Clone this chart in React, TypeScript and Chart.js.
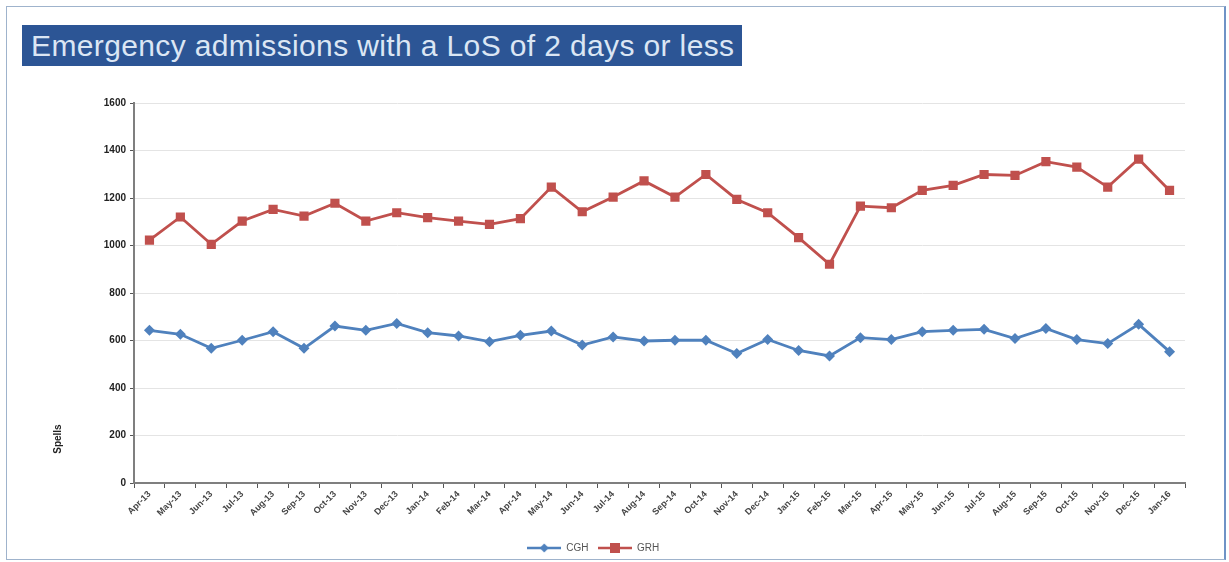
import React, { useEffect, useRef } from "react";
import { Chart, registerables } from "chart.js";

Chart.register(...registerables);

const months = [
  "Apr-13", "May-13", "Jun-13", "Jul-13", "Aug-13", "Sep-13", "Oct-13", "Nov-13", "Dec-13",
  "Jan-14", "Feb-14", "Mar-14", "Apr-14", "May-14", "Jun-14", "Jul-14", "Aug-14", "Sep-14",
  "Oct-14", "Nov-14", "Dec-14", "Jan-15", "Feb-15", "Mar-15", "Apr-15", "May-15", "Jun-15",
  "Jul-15", "Aug-15", "Sep-15", "Oct-15", "Nov-15", "Dec-15", "Jan-16",
];

const cghValues = [
  643, 626, 567, 601, 637, 567, 661, 643, 672, 633, 619, 595, 622, 640, 581, 615,
  598, 601, 601, 545, 604, 558, 535, 612, 604, 637, 643, 647, 608, 651, 604, 587, 668, 553,
];

const grhValues = [
  1023, 1120, 1005, 1103, 1152, 1124, 1178, 1103, 1138, 1117, 1103, 1089, 1113, 1246, 1142, 1204,
  1272, 1204, 1299, 1194, 1138, 1033, 921, 1166, 1159, 1232, 1253, 1299, 1295, 1353, 1330, 1246, 1364, 1232,
];

const yTicks = [0, 200, 400, 600, 800, 1000, 1200, 1400, 1600];

const TITLE = "Emergency admissions with a LoS of 2 days or less";
const Y_TITLE = "Spells";
const BLUE = "#4F81BD";
const RED = "#C0504D";

function legendSymbol(color: string, shape: "diamond" | "square"): HTMLCanvasElement {
  const c = document.createElement("canvas");
  c.width = 34;
  c.height = 12;
  const ctx = c.getContext("2d")!;
  ctx.strokeStyle = color;
  ctx.lineWidth = 2.5;
  ctx.beginPath();
  ctx.moveTo(0, 6);
  ctx.lineTo(34, 6);
  ctx.stroke();
  ctx.fillStyle = color;
  if (shape === "diamond") {
    ctx.beginPath();
    ctx.moveTo(17, 1.5);
    ctx.lineTo(21.5, 6);
    ctx.lineTo(17, 10.5);
    ctx.lineTo(12.5, 6);
    ctx.closePath();
    ctx.fill();
  } else {
    ctx.fillRect(12, 1, 10, 10);
  }
  return c;
}

export default function App() {
  const ref = useRef<HTMLCanvasElement | null>(null);

  useEffect(() => {
    const canvas = ref.current;
    if (!canvas) return;
    const symbols = [legendSymbol(BLUE, "diamond"), legendSymbol(RED, "square")];

    const yTitlePlugin = {
      id: "yTitlePlugin",
      afterDraw(chart: any) {
        const ctx = chart.ctx;
        const ys = chart.scales.y;
        ctx.save();
        ctx.translate(51, ys.getPixelForValue(185));
        ctx.rotate(-Math.PI / 2);
        ctx.font = "bold 10px 'Liberation Sans', Arial, sans-serif";
        ctx.fillStyle = "#222";
        ctx.textAlign = "center";
        ctx.textBaseline = "middle";
        ctx.fillText(Y_TITLE, 0, 0);
        ctx.restore();
      },
    };

    const chart = new Chart(canvas, {
      type: "line",
      data: {
        labels: months,
        datasets: [
          {
            label: "CGH",
            data: cghValues,
            borderColor: BLUE,
            backgroundColor: BLUE,
            borderWidth: 2.8,
            pointStyle: "rectRot",
            pointRadius: 5.5,
            pointBorderWidth: 0,
            tension: 0,
          },
          {
            label: "GRH",
            data: grhValues,
            borderColor: RED,
            backgroundColor: RED,
            borderWidth: 2.8,
            pointStyle: "rect",
            pointRadius: 6.5,
            pointBorderWidth: 0,
            tension: 0,
          },
        ],
      },
      options: {
        animation: false,
        responsive: false,
        maintainAspectRatio: false,
        layout: { padding: { left: 0, right: 39, top: 32, bottom: 0 } },
        plugins: {
          title: { display: false },
          tooltip: { enabled: false },
          legend: {
            display: true,
            position: "bottom",
            labels: {
              usePointStyle: true,
              pointStyleWidth: 34,
              color: "#555",
              padding: 4,
              font: { size: 10, family: "'Liberation Sans', Arial, sans-serif" },
              generateLabels: (ch: any) =>
                ch.data.datasets.map((ds: any, i: number) => ({
                  text: ds.label + "  ",
                  pointStyle: symbols[i],
                  fillStyle: ds.borderColor,
                  strokeStyle: ds.borderColor,
                  fontColor: "#555",
                  lineWidth: 0,
                  hidden: false,
                  datasetIndex: i,
                })),
            },
          },
        },
        scales: {
          x: {
            type: "category",
            offset: true,
            afterFit: (s: any) => {
              s.height = 56;
            },
            border: { display: true, color: "#7f7f7f", width: 2 },
            grid: {
              display: true,
              offset: true,
              drawOnChartArea: false,
              drawTicks: true,
              tickLength: 5,
              tickColor: "#555",
            },
            ticks: {
              autoSkip: false,
              maxRotation: 45,
              minRotation: 45,
              color: "#444",
              padding: 1,
              font: { size: 9, weight: "bold", family: "'Liberation Sans', Arial, sans-serif" },
            },
          },
          y: {
            min: 0,
            max: 1600,
            afterFit: (s: any) => {
              s.width = 127;
            },
            afterBuildTicks: (s: any) => {
              s.ticks = yTicks.map((v) => ({ value: v }));
            },
            border: { display: true, color: "#7f7f7f", width: 2 },
            grid: {
              color: "#e4e4e4",
              lineWidth: 1,
              drawTicks: true,
              tickLength: 4,
              tickColor: "#555",
            },
            ticks: {
              color: "#222",
              padding: 4,
              callback: (v: any) => String(v),
              font: { size: 10, weight: "bold", family: "'Liberation Sans', Arial, sans-serif" },
            },
          },
        },
      },
      plugins: [yTitlePlugin],
    } as any);

    return () => chart.destroy();
  }, []);

  return (
    <div
      style={{
        position: "absolute",
        left: 6,
        top: 6,
        width: 1217,
        height: 552,
        border: "1px solid #9fb3cc",
        borderRight: "2px solid #6f93c6",
        background: "#fff",
      }}
    >
      <div
        style={{
          position: "absolute",
          left: 15,
          top: 18,
          width: 720,
          height: 41,
          background: "#2C5595",
          color: "#dbe6f4",
          fontFamily: "'Liberation Sans', Arial, sans-serif",
          fontSize: 30,
          lineHeight: "41px",
          paddingLeft: 9,
          boxSizing: "border-box",
          whiteSpace: "nowrap",
          letterSpacing: "0.37px",
        }}
      >
        {TITLE}
      </div>
      <canvas
        ref={ref}
        width={1217}
        height={492}
        style={{ position: "absolute", left: 0, top: 64, width: 1217, height: 492 }}
      />
    </div>
  );
}
